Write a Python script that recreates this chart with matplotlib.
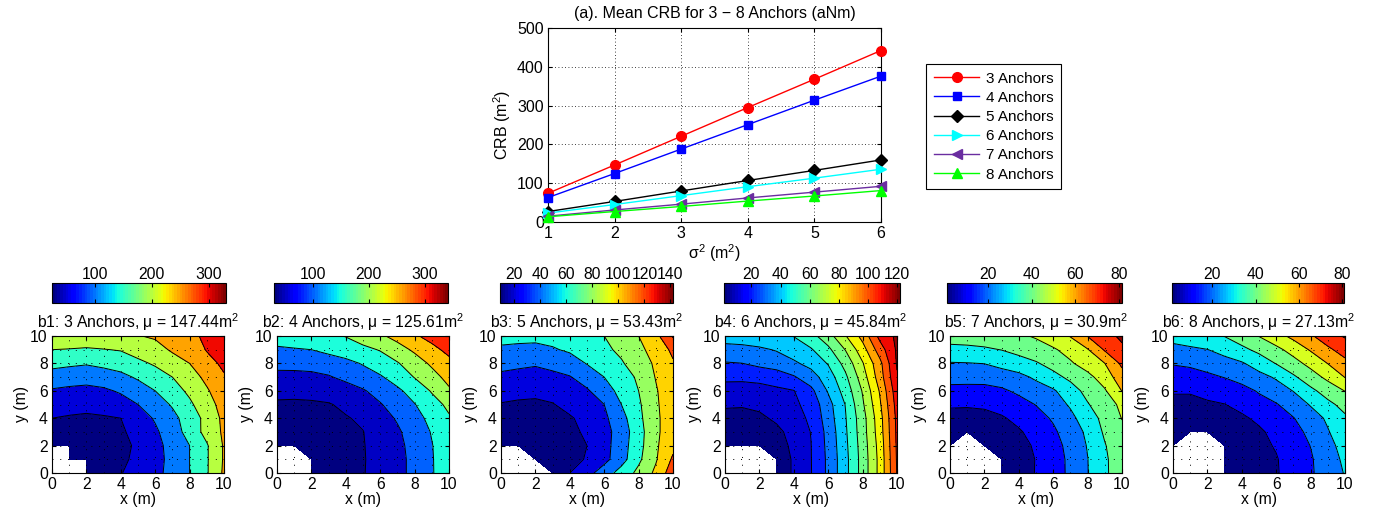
import numpy as np
import matplotlib
matplotlib.use('Agg')
import matplotlib.pyplot as plt
from matplotlib.colors import Normalize
from matplotlib.cm import ScalarMappable

plt.rcParams['font.family'] = ['Liberation Sans', 'DejaVu Sans']
plt.rcParams['mathtext.fontset'] = 'custom'
plt.rcParams['mathtext.rm'] = 'Liberation Sans'
plt.rcParams['mathtext.it'] = 'Liberation Sans:italic'
plt.rcParams['mathtext.bf'] = 'Liberation Sans:bold'

# ---------------- top chart data ----------------
sigma2 = [1, 2, 3, 4, 5, 6]
crb_3 = [74, 147, 221, 295, 368, 442]
crb_4 = [63, 125, 188, 251, 314, 376]
crb_5 = [27, 53, 80, 107, 133, 160]
crb_6 = [23, 45, 68, 91, 113, 136]
crb_7 = [15, 31, 46, 62, 77, 92]
crb_8 = [13.5, 27, 40, 54, 67, 81]
series_labels = ['3 Anchors', '4 Anchors', '5 Anchors', '6 Anchors', '7 Anchors', '8 Anchors']

# ---------------- bottom maps data (rows: y = 0..10, cols: x = 0..10) ----------------
nan = np.nan
grid_x = list(range(11))
grid_y = list(range(11))

b1_crb = [
    [nan, nan, 36, 42, 48, 67, 88, 114, 150, 195, 258],
    [nan, 30, 27, 33, 43, 58, 84, 114, 150, 195, 255],
    [35, 28, 25, 29, 40, 56, 85, 117, 150, 195, 255],
    [40, 33, 30, 33, 44, 64, 92, 127, 168, 217, 258],
    [50, 46, 44, 46, 50, 77, 105, 136, 173, 215, 262],
    [73, 65, 61, 66, 79, 100, 127, 155, 191, 231, 268],
    [95, 90, 87, 92, 106, 128, 150, 179, 210, 245, 278],
    [129, 122, 118, 126, 138, 156, 178, 200, 230, 261, 295],
    [164, 159, 154, 162, 170, 189, 206, 229, 250, 283, 310],
    [200, 197, 193, 198, 203, 220, 233, 256, 270, 303, 320],
    [253, 245, 240, 240, 243, 248, 256, 270, 290, 308, 330],
]

b2_crb = [
    [nan, nan, 32, 36, 42, 48, 63.6, 86, 113, 146.7, 175],
    [nan, nan, 31, 35, 41, 47.5, 63, 86, 113, 147, 176],
    [34, 31, 32, 36, 42, 48, 65, 88, 116, 148, 180],
    [36, 34, 35, 39, 44, 49, 70, 93, 122, 153, 186],
    [40, 38, 39, 43, 47, 57, 80.5, 104.9, 133.6, 163, 195],
    [44, 43, 44, 47, 58.6, 77.6, 96.6, 121.7, 148, 182, 210],
    [62, 61.5, 64, 70, 80, 95.5, 118, 140.9, 170.4, 204, 243],
    [86.6, 87, 89, 96, 111, 127.9, 144.6, 171, 202, 232.6, 265],
    [113.6, 114, 116.5, 124, 136, 153.6, 175, 196, 226.8, 258, 285],
    [144, 147, 150, 162.8, 175.6, 188.5, 202.8, 230.6, 258, 285, 314],
    [168, 172, 180, 189, 202, 222, 242, 266, 293, 318, 341],
]

b3_crb = [
    [nan, nan, nan, 17, 20, 33, 50, 68, 85, 104, 132],
    [nan, nan, 10, 12, 16, 21, 34, 52, 76, 98, 123],
    [12, 10, 9, 11, 15, 20, 33, 51, 73, 97, 115],
    [13, 11, 10, 12, 17, 22, 33, 49, 72, 96, 112],
    [15, 13, 12, 14, 18, 26, 36, 53, 75, 96, 112],
    [19, 18, 17, 19, 26, 33, 40, 60, 77, 97, 113],
    [27, 24, 24, 27, 32, 38, 50, 67, 80, 98, 115],
    [36, 34, 33, 35, 39, 48, 60, 71, 83, 101, 117],
    [46, 44, 42, 46, 50, 61, 69, 78, 90, 103, 118],
    [57, 56, 55, 58, 63, 69, 76, 84, 95, 108, 124],
    [66, 65, 65, 67, 70, 75, 80, 90, 100, 114, 142],
]

b4_crb = [
    [nan, nan, nan, 5, 11, 19.6, 32, 47, 64, 83, 110.5],
    [nan, nan, nan, 5, 11, 19.7, 32, 47, 64, 83, 111],
    [1.5, 1.2, 2.5, 6, 12, 19.8, 32.6, 47.7, 64.6, 83.8, 111.5],
    [2.5, 2.5, 4, 7.5, 13.7, 20.3, 33.2, 48.5, 65.5, 85.2, 112],
    [7, 6.5, 8, 11.8, 16.2, 21.7, 35, 49.3, 66, 86, 112.5],
    [11.2, 11, 12.3, 14.6, 18, 23.6, 36.4, 50.3, 68.5, 88.4, 114],
    [16.3, 16, 17, 18.5, 19.7, 27.4, 41, 54, 70.8, 90.9, 116],
    [22, 22, 22.5, 23.8, 29, 35.8, 45, 58, 75, 95, 119],
    [29.2, 29.9, 32.7, 35.5, 38.4, 43, 50.7, 63.3, 79.2, 97, 121],
    [36.8, 37.4, 38.5, 40.6, 44.8, 49, 57.7, 70.3, 85.8, 105, 121.5],
    [44, 44.5, 46, 48, 50.3, 56.7, 65.9, 79.3, 93.3, 113, 122],
]

b5_crb = [
    [nan, nan, nan, 5, 8, 10.2, 15.7, 21.9, 29.7, 38.3, 46],
    [nan, nan, nan, 4.5, 7.5, 10.2, 15.7, 22, 29.8, 38.3, 46.5],
    [1.5, nan, 2, 5, 8, 10.8, 16.5, 22.9, 30.6, 39.4, 47],
    [3, 1.2, 3, 6, 9, 13.2, 18.4, 24.7, 31.9, 41.5, 48],
    [7, 6.5, 7, 9, 12.4, 16.5, 21.1, 27.5, 35.1, 43, 50.3],
    [11.1, 11, 11.6, 13.5, 16.5, 20.3, 25.4, 31.2, 39.3, 45.7, 52],
    [17.8, 17.5, 17.2, 18.5, 21.8, 25.3, 28.8, 35.7, 43, 49, 60.3],
    [22.7, 22.8, 23.3, 25, 27.1, 31.7, 37, 42.2, 47.3, 54.5, 66],
    [29.3, 29.6, 30.2, 33, 36, 39, 43.5, 48.8, 54.3, 59.9, 72],
    [37.7, 38, 38.7, 40.2, 42.9, 45.9, 48.8, 53.5, 59.3, 71, 78.5],
    [43.5, 44, 45, 46.5, 48.5, 51, 55.7, 60.5, 70.3, 77, 81.5],
]

b6_crb = [
    [nan, nan, nan, 4, 6, 8, 9.2, 14, 18.8, 24.6, 30.6],
    [nan, nan, nan, 3.5, 5.5, 7.8, 9.4, 14.2, 19, 25.3, 32],
    [1.5, nan, nan, 3.5, 5.5, 7.8, 10.7, 15.3, 20.2, 26.7, 34],
    [2.5, 1.3, 1.5, 3, 5.5, 8.5, 12.7, 17, 22.2, 29.3, 36],
    [5, 5, 5.5, 6.5, 8.5, 11.9, 15.7, 19.6, 25.6, 31.5, 38.5],
    [8.5, 8.5, 9, 9.8, 12.8, 16.1, 19.3, 24.7, 30.7, 37.7, 43],
    [10.5, 10.5, 12.2, 14.5, 16.5, 21, 25.6, 30.3, 37.8, 44, 50.3],
    [15.5, 16.5, 18.2, 20.3, 23.8, 27, 31.1, 38.5, 45.4, 52.5, 60.3],
    [20.6, 21.5, 23.5, 26.5, 29, 34.3, 40.4, 46.4, 53, 60.2, 67],
    [27.5, 28.5, 29.8, 33.2, 37.7, 42.4, 47.4, 53.7, 60.9, 67.9, 74.5],
    [33, 35, 37.5, 40.3, 45.1, 50.3, 56.4, 62.6, 68.6, 76, 81],
]

panel_names = ['b1', 'b2', 'b3', 'b4', 'b5', 'b6']
panel_anchors = [3, 4, 5, 6, 7, 8]
panel_mu = ['147.44', '125.61', '53.43', '45.84', '30.9', '27.13']
panel_grids = [b1_crb, b2_crb, b3_crb, b4_crb, b5_crb, b6_crb]
panel_level_step = [50, 50, 20, 10, 10, 10]
panel_cbar_ticks = [[100, 200, 300], [100, 200, 300], [20, 40, 60, 80, 100, 120, 140],
                    [20, 40, 60, 80, 100, 120], [20, 40, 60, 80], [20, 40, 60, 80]]
panel_corner_mask = [False, True, True, True, True, True]

# ---------------- figure ----------------
W, H = 1374, 517
fig = plt.figure(figsize=(W / 100, H / 100), dpi=100)


def fig_rect(x0, y0, x1, y1):
    return [x0 / W, 1 - y1 / H, (x1 - x0) / W, (y1 - y0) / H]


FS = 11.3
FS_TOP = 11.5

# top chart
ax = fig.add_axes(fig_rect(548, 28, 881, 222))
styles = [('#ff0000', 'o', 7), ('#0000ff', 's', 6), ('#000000', 'D', 6), ('#00ffff', '>', 7.5),
          ('#6a2da0', '<', 7.5), ('#00ff00', '^', 7.5)]
for vals, lab, (c, m, ms) in zip([crb_3, crb_4, crb_5, crb_6, crb_7, crb_8], series_labels, styles):
    ax.plot(sigma2, vals, '-', color=c, marker=m, markersize=ms, lw=1.0,
            markeredgecolor=c, markerfacecolor=c, label=lab, clip_on=False, zorder=3)
ax.set_xlim(1, 6)
ax.set_ylim(0, 500)
ax.set_xticks([1, 2, 3, 4, 5, 6])
ax.set_yticks([0, 100, 200, 300, 400, 500])
ax.grid(True, linestyle=(0, (1, 3)), color='k', linewidth=0.6)
ax.tick_params(direction='in', top=True, right=True, length=3, labelsize=FS_TOP, pad=3)
ax.set_title('(a). Mean CRB for 3 \u2212 8 Anchors (aNm)', fontsize=FS_TOP, pad=7)
ax.set_xlabel('\u03c3$^2$ (m$^2$)', fontsize=FS_TOP, labelpad=1)
ax.set_ylabel('CRB (m$^2$)', fontsize=FS_TOP, labelpad=3)
for s in ax.spines.values():
    s.set_linewidth(0.8)
handles, labels = ax.get_legend_handles_labels()
leg = fig.legend(handles, labels, loc='upper left', bbox_to_anchor=(926 / W, 1 - 64 / H),
                 bbox_transform=fig.transFigure, fontsize=11, frameon=True, fancybox=False,
                 edgecolor='k', framealpha=1, handlelength=3.0, labelspacing=0.34,
                 borderpad=0.5, handletextpad=0.4, borderaxespad=0)
leg.get_frame().set_linewidth(0.8)

# bottom maps
ax_lefts = [52, 277, 501, 725, 950, 1173]
cb_spans = [(52, 226), (274, 448), (500, 673), (724, 900), (947, 1122), (1172, 1344)]
jet = plt.get_cmap('jet')
X, Y = np.meshgrid(grid_x, grid_y)

for i in range(6):
    Z = np.ma.masked_invalid(np.array(panel_grids[i], dtype=float))
    zmin, zmax = float(Z.min()), float(Z.max())
    step = panel_level_step[i]
    inner = list(np.arange(step, zmax, step))
    inner = [l for l in inner if zmin < l < zmax]
    full = [zmin] + inner + [zmax]
    band_colors = [jet((l - zmin) / (zmax - zmin)) for l in full[:-1]]

    a = fig.add_axes(fig_rect(ax_lefts[i], 336, ax_lefts[i] + 172, 473))
    a.contourf(X, Y, Z, levels=full, colors=band_colors, corner_mask=panel_corner_mask[i])
    a.contour(X, Y, Z, levels=inner, colors='k', linewidths=0.7,
              corner_mask=panel_corner_mask[i])
    a.set_xlim(0, 10)
    a.set_ylim(0, 10)
    a.set_xticks(range(0, 11, 2))
    a.set_yticks(range(0, 11, 2))
    a.set_xticks(range(0, 11, 1), minor=True)
    a.set_yticks(range(0, 11, 1), minor=True)
    a.grid(True, which='both', linestyle=(0, (1, 7)), color='k', linewidth=0.7)
    a.tick_params(which='major', direction='in', top=True, right=True, length=3,
                  labelsize=FS, pad=3)
    a.tick_params(which='minor', length=0)
    a.set_xlabel('x (m)', fontsize=FS, labelpad=0)
    a.set_ylabel('y (m)', fontsize=FS, labelpad=1)
    a.set_title('%s: %d Anchors, \u03bc = %sm$^2$' % (panel_names[i], panel_anchors[i], panel_mu[i]),
                fontsize=FS, pad=6)
    for s in a.spines.values():
        s.set_linewidth(0.8)

    cx0, cx1 = cb_spans[i]
    cax = fig.add_axes(fig_rect(cx0, 283, cx1, 303))
    sm = ScalarMappable(norm=Normalize(zmin, zmax), cmap=plt.get_cmap('jet', 64))
    cb = fig.colorbar(sm, cax=cax, orientation='horizontal', ticklocation='top')
    cb.set_ticks(panel_cbar_ticks[i])
    cb.ax.tick_params(direction='in', length=3, top=True, bottom=True, labeltop=True,
                      labelbottom=False, labelsize=FS, pad=1)
    cb.outline.set_linewidth(0.8)

fig.savefig('out.png', dpi=100)
